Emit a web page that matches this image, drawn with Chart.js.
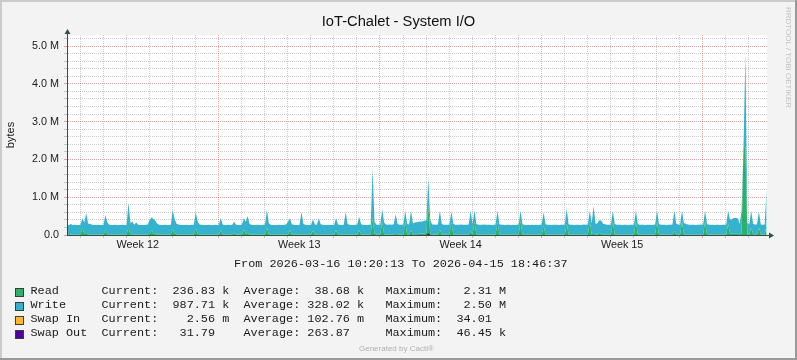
<!DOCTYPE html>
<html>
<head>
<meta charset="utf-8">
<script src="https://cdn.jsdelivr.net/npm/chart.js@4.4.1/dist/chart.umd.min.js"></script>
<style>
  html,body{margin:0;padding:0;background:#f3f3f3;}
  #wrap{position:relative;width:797px;height:360px;overflow:hidden;}
  #sysio{position:absolute;left:0;top:0;}
  .mono{position:absolute;white-space:pre;font-family:"Liberation Mono",monospace;font-size:11.84px;line-height:14px;color:#1a1a1a;}
  .sw{position:absolute;left:15px;width:7px;height:7px;border:1px solid #3c3c3c;}
  .small{position:absolute;white-space:pre;font-family:"Liberation Sans",Arial,sans-serif;font-size:8px;line-height:10px;color:#b0b0b0;}
</style>
</head>
<body>
<div id="wrap">
  <canvas id="sysio" width="797" height="360"></canvas>
  <div class="mono" style="left:234px;top:257px">From 2026-03-16 10:20:13 To 2026-04-15 18:46:37</div>
  <div id="legend"></div>
  <div class="small" style="left:359px;top:344px">Generated by Cacti®</div>
  <div class="small" style="left:738px;top:52px;width:100px;text-align:center;transform:rotate(90deg);color:#c0c0c0">RRDTOOL / TOBI OETIKER</div>
</div>
<script>
// samples every 2 hours from 2026-03-16 10:20:13, values in kB
const hourStep = 2;
const readK = [
  10,10,10,10,10,10,10,10,180,40,60,15,10,10,10,10,10,10,10,10,
  130,20,10,10,10,10,10,10,10,10,10,10,200,20,20,10,15,10,10,10,
  10,10,10,40,130,30,20,10,10,10,10,10,10,10,10,150,40,10,10,10,
  10,10,10,10,10,10,10,180,30,10,10,10,10,10,10,10,10,10,10,10,
  130,10,10,10,10,10,10,40,10,10,10,10,150,30,60,10,10,10,10,10,
  10,10,10,10,200,20,10,10,10,10,10,10,10,10,10,20,130,10,10,10,
  10,10,20,10,10,10,10,10,120,10,10,20,10,10,10,10,10,10,10,10,
  130,10,10,10,10,20,10,10,10,10,10,10,130,10,10,10,10,10,10,440,
  30,10,10,10,350,20,10,10,10,10,10,30,10,10,10,10,350,10,10,130,
  15,20,20,30,30,40,40,50,800,30,10,10,10,10,150,10,10,10,10,10,
  350,10,10,10,10,10,10,10,10,10,100,10,350,10,10,10,10,10,10,10,
  10,10,10,10,350,10,10,10,10,10,10,10,10,10,10,10,370,10,10,10,
  10,10,10,10,10,10,10,10,250,10,10,10,10,10,10,10,10,10,10,10,
  300,10,10,10,10,10,10,10,10,10,10,10,350,10,30,10,10,60,20,10,
  10,10,10,10,350,10,10,10,10,10,10,10,10,10,10,10,350,10,10,10,
  10,10,10,10,10,10,10,350,10,10,10,10,10,10,10,10,100,10,10,10,
  350,10,10,10,10,10,10,10,10,10,10,10,350,10,10,10,10,10,10,10,
  10,10,10,10,300,30,30,30,30,30,10,40,2300,2310,20,10,200,10,10,10,
  200,10,10,10,237
];
const writeK = [
  255,255,280,255,258,255,255,260,260,290,520,285,290,260,255,255,258,255,255,262,
  400,310,260,255,255,258,255,255,255,260,255,262,650,300,330,262,315,258,255,255,
  255,258,270,360,330,390,360,290,262,255,255,258,255,255,262,510,380,290,265,255,
  255,255,258,255,255,260,262,430,320,270,258,255,255,255,258,255,255,260,255,262,
  320,265,255,255,258,255,260,310,262,255,255,270,290,320,440,280,258,255,255,258,
  255,255,260,270,470,290,258,255,255,255,258,255,255,260,270,330,310,275,258,255,
  255,262,590,280,258,255,255,262,290,270,260,420,275,258,255,255,258,255,255,262,
  310,270,258,255,262,590,280,258,255,255,258,270,350,275,258,255,255,258,262,1310,
  320,262,258,265,340,310,265,262,270,262,275,520,280,262,258,265,290,280,265,510,
  290,310,320,320,330,320,340,340,720,370,270,265,262,265,490,280,262,258,262,270,
  270,285,262,258,262,265,262,258,262,270,540,280,290,280,262,258,262,265,262,258,
  262,255,258,265,290,275,258,262,255,258,262,255,258,255,262,265,270,275,258,255,
  258,255,262,255,258,255,262,265,350,275,258,262,255,258,262,258,255,262,258,265,
  390,275,258,262,255,258,262,255,258,265,262,270,290,300,740,290,300,340,360,290,
  275,262,258,265,290,280,262,258,262,255,262,258,255,262,258,265,290,280,262,258,
  262,255,258,262,255,262,270,290,280,262,258,262,255,258,262,270,540,285,270,265,
  290,300,285,270,262,258,262,255,258,262,265,270,290,280,262,258,262,255,258,262,
  255,258,262,270,340,370,390,420,420,410,280,600,40,2500,290,270,440,280,265,270,
  420,270,262,265,988
];
// swap series are nearly flat, only a few readings (hour, bytes)
const swapInHours = [0, 728];
const swapInBytes = [0.1, 0.00256];
const swapOutHours = [0, 374, 376, 378, 728];
const swapOutBytes = [30, 0, 46450, 0, 31.79];

const seriesNames = ['Read', 'Write', 'Swap In', 'Swap Out'];
const seriesColors = ['#2fb06a', '#35b3ce', '#ffb62a', '#52009b'];
const currentVals = ['236.83 k', '987.71 k', '  2.56 m', ' 31.79  '];
const averageVals = [' 38.68 k', '328.02 k', '102.76 m', '263.87  '];
const maximumVals = [' 2.31 M', ' 2.50 M', '34.01', '46.45 k'];

const weekLabels = ['Week 12', 'Week 13', 'Week 14', 'Week 15'];
const weekMidHours = [73.663, 241.663, 409.663, 577.663];
const firstMidnight = 13.663;   // 2026-03-17 00:00
const firstMonday = 157.663;    // 2026-03-23 00:00
const xMax = 728.44;
const yMax = 5290000;

// legend rows
const legend = document.getElementById('legend');
seriesNames.forEach((name, i) => {
  const sw = document.createElement('div');
  sw.className = 'sw';
  sw.style.top = (288 + i * 14) + 'px';
  sw.style.background = seriesColors[i];
  legend.appendChild(sw);
  const row = document.createElement('div');
  row.className = 'mono';
  row.style.left = '30.5px';
  row.style.top = (284 + i * 14) + 'px';
  row.textContent = name.padEnd(10) + 'Current:  ' + currentVals[i] + '  Average: ' +
    averageVals[i] + '   Maximum:  ' + maximumVals[i];
  legend.appendChild(row);
});

const toPts = (arr) => arr.map((v, i) => ({x: i * hourStep, y: v * 1000}));
const pairPts = (hs, vs) => hs.map((h, i) => ({x: h, y: vs[i]}));

const isWeekMid = v => weekMidHours.some(w => Math.abs(w - v) < 0.01);
const isMonday = v => Math.abs(((v - firstMonday) % 168 + 168) % 168) < 0.01;

const gridGray = 'rgba(140,140,140,0.45)';
const gridRed = 'rgba(210,60,60,0.45)';
const axisColor = '#2f4f47';

const framePlugin = {
  id: 'frame',
  beforeDraw(chart) {
    const c = chart.ctx, a = chart.chartArea;
    c.save();
    c.fillStyle = '#f3f3f3';
    c.fillRect(0, 0, chart.width, chart.height);
    c.fillStyle = '#cbcbcb';
    c.fillRect(0, 0, chart.width, 2);
    c.fillRect(0, 0, 2, chart.height);
    c.fillStyle = '#999999';
    c.fillRect(0, chart.height - 2, chart.width, 2);
    c.fillRect(chart.width - 2, 0, 2, chart.height);
    c.fillStyle = '#ffffff';
    c.fillRect(a.left, a.top, a.right - a.left, a.bottom - a.top);
    c.restore();
  },
  afterDraw(chart) {
    const c = chart.ctx, a = chart.chartArea;
    const x0 = Math.round(a.left) + 0.5, y0 = Math.round(a.bottom) + 0.5;
    c.save();
    c.strokeStyle = axisColor;
    c.lineWidth = 1;
    c.beginPath();
    c.moveTo(x0, y0); c.lineTo(x0, a.top - 1);
    c.moveTo(x0, y0); c.lineTo(a.right + 2, y0);
    c.stroke();
    c.fillStyle = axisColor;
    c.beginPath();
    c.moveTo(x0, a.top - 6); c.lineTo(x0 - 3, a.top - 1); c.lineTo(x0 + 3, a.top - 1);
    c.closePath(); c.fill();
    c.beginPath();
    c.moveTo(a.right + 7, y0); c.lineTo(a.right + 2, y0 - 3); c.lineTo(a.right + 2, y0 + 3);
    c.closePath(); c.fill();
    c.restore();
  }
};

const area = (label, data, color, fill, stack, order) => ({
  label, data, fill, stack, order,
  backgroundColor: color,
  borderColor: 'rgba(0,0,0,0)',
  borderWidth: 0,
  pointRadius: 0,
  tension: 0
});

const chart = new Chart(document.getElementById('sysio'), {
  type: 'line',
  data: {
    datasets: [
      area('Read', toPts(readK), seriesColors[0], 'origin', 'io', 0),
      area('Write', toPts(writeK), seriesColors[1], '-1', 'io', 0),
      area('Swap In', pairPts(swapInHours, swapInBytes), seriesColors[2], 'origin', 'swap', -1),
      area('Swap Out', pairPts(swapOutHours, swapOutBytes), seriesColors[3], 'origin', 'swap', -1)
    ]
  },
  options: {
    responsive: false,
    animation: false,
    devicePixelRatio: 1,
    layout: {padding: {left: 0, right: 0, top: 0, bottom: 105}},
    plugins: {
      legend: {display: false},
      tooltip: {enabled: false},
      title: {
        display: true,
        text: 'IoT-Chalet - System I/O',
        color: '#111',
        font: {family: 'Liberation Sans', size: 14.7, weight: 'normal'},
        padding: {top: 13, bottom: 4.4}
      }
    },
    scales: {
      x: {
        type: 'linear',
        min: 0,
        max: xMax,
        z: 1,
        afterBuildTicks(scale) {
          const vals = [];
          for (let h = firstMidnight; h < xMax; h += 24) vals.push(h);
          weekMidHours.forEach(h => vals.push(h));
          vals.sort((p, q) => p - q);
          scale.ticks = vals.map(v => ({value: v}));
        },
        afterFit(scale) { scale.height = 20; },
        ticks: {
          autoSkip: false,
          maxRotation: 0,
          padding: 1,
          color: '#1a1a1a',
          font: {family: 'Liberation Sans', size: 10.8},
          callback(v) {
            const k = weekMidHours.findIndex(w => Math.abs(w - v) < 0.01);
            return k >= 0 ? weekLabels[k] : '';
          }
        },
        grid: {
          tickLength: 3,
          color(ctx) {
            const v = ctx.tick ? ctx.tick.value : 0;
            if (isWeekMid(v)) return 'rgba(0,0,0,0)';
            return isMonday(v) ? gridRed : gridGray;
          }
        },
        border: {display: true, color: axisColor, dash: [1, 1]}
      },
      y: {
        min: 0,
        max: yMax,
        stacked: true,
        z: 1,
        afterBuildTicks(scale) {
          const vals = [];
          for (let k = 0; k <= 26; k++) vals.push(k * 200000);
          scale.ticks = vals.map(v => ({value: v}));
        },
        afterFit(scale) { scale.width = 67; },
        title: {
          display: true,
          text: 'bytes',
          color: '#1a1a1a',
          font: {family: 'Liberation Sans', size: 11},
          padding: {top: 4, bottom: 0}
        },
        ticks: {
          autoSkip: false,
          padding: 5,
          color: '#1a1a1a',
          font: {family: 'Liberation Sans', size: 10.8},
          callback(v) {
            if (v === 0) return '0.0';
            return v % 1000000 === 0 ? (v / 1000000).toFixed(1) + ' M' : '';
          }
        },
        grid: {
          tickLength: 3,
          color(ctx) {
            const v = ctx.tick ? ctx.tick.value : 0;
            return v % 1000000 === 0 ? gridRed : gridGray;
          }
        },
        border: {display: true, color: axisColor, dash: [1, 1]}
      },
      // empty right margin (rrdtool leaves room for its side caption)
      side: {
        type: 'linear',
        position: 'right',
        display: true,
        afterFit(scale) { scale.width = 30; },
        grid: {display: false, drawTicks: false},
        border: {display: false},
        ticks: {display: false}
      }
    }
  },
  plugins: [framePlugin]
});
</script>
</body>
</html>
